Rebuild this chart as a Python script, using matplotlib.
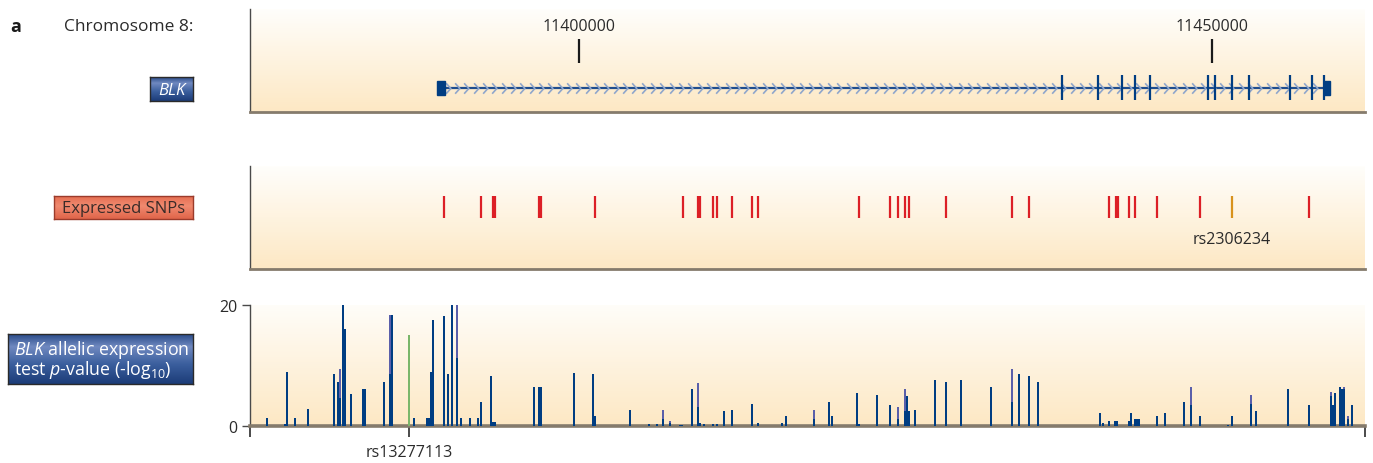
import numpy as np
import matplotlib
matplotlib.use("Agg")
import matplotlib.pyplot as plt
from matplotlib.colors import LinearSegmentedColormap
from matplotlib.path import Path
from matplotlib.patches import Rectangle

plt.rcParams['font.family'] = ['Open Sans', 'DejaVu Sans']
plt.rcParams['mathtext.fontset'] = 'custom'
plt.rcParams['mathtext.rm'] = 'Open Sans'
plt.rcParams['mathtext.it'] = 'Open Sans:italic'

# ---- data (positions in kb on chromosome 8) ----
x_range = (11374.0, 11462.1)
coord_ticks = [11400, 11450]
coord_labels = ["11400000", "11450000"]

gene_start = (11388.78, 11389.42)   # first exon block
gene_end = (11458.85, 11459.32)     # last exon block
exons = [11438.13, 11440.97, 11442.89, 11443.92, 11445.10, 11449.66,
         11450.24, 11451.58, 11452.90, 11456.16, 11457.90, 11458.85]

snp_pos = [11389.31, 11392.24, 11393.21, 11393.36, 11396.84, 11397.00,
           11401.26, 11408.21, 11409.40, 11409.56, 11410.58, 11410.88,
           11412.09, 11413.67, 11414.14, 11422.12, 11424.57, 11425.20,
           11425.75, 11426.07, 11428.99, 11434.20, 11435.55, 11441.86,
           11442.42, 11442.58, 11443.44, 11443.92, 11445.66, 11449.05,
           11457.66]
snp_highlight = 11451.58
snp_highlight_name = "rs2306234"

# allelic expression test -log10 p-values
bar_pos = [11375.33, 11376.78, 11376.91, 11377.57, 11378.59, 11380.62, 11380.96,
           11381.10, 11381.33, 11381.49, 11381.97, 11382.90, 11383.06, 11384.57,
           11385.07, 11385.23, 11386.94, 11387.99, 11388.15, 11388.29, 11388.44,
           11389.31, 11389.63, 11389.94, 11390.34, 11390.66, 11391.37, 11392.00,
           11392.24, 11393.03, 11393.21, 11393.36, 11396.42, 11396.80, 11396.96,
           11399.63, 11401.08, 11401.24, 11404.05, 11405.51, 11406.14, 11406.61,
           11407.16, 11407.99, 11408.15, 11408.93, 11409.38, 11409.53, 11409.85,
           11410.56, 11410.90, 11411.43, 11412.06, 11413.67, 11414.14, 11416.03,
           11416.35, 11418.54, 11419.75, 11419.98, 11421.96, 11422.12, 11423.54,
           11424.57, 11425.20, 11425.75, 11425.91, 11426.07, 11426.54, 11428.12,
           11428.99, 11430.17, 11432.54, 11434.20, 11434.76, 11435.55, 11436.26,
           11441.15, 11441.39, 11441.86, 11442.34, 11442.50, 11443.44, 11443.60,
           11443.92, 11444.08, 11444.24, 11445.66, 11446.29, 11447.79, 11448.34,
           11449.05, 11451.26, 11451.58, 11453.08, 11453.48, 11456.00, 11457.66,
           11459.40, 11459.56, 11459.72, 11460.11, 11460.27, 11460.43, 11460.74,
           11461.06]
bar_dark = [1.3, 0.3, 9.0, 1.3, 2.8, 8.6, 7.3,
            4.6, 20.0, 16.0, 5.3, 6.1, 6.1, 7.3,
            8.6, 18.3, 1.3, 1.3, 1.3, 9.0, 17.5,
            18.2, 8.6, 20.0, 11.3, 1.3, 1.3, 1.3,
            4.0, 8.3, 0.6, 0.6, 6.4, 6.4, 6.4,
            8.8, 8.6, 1.7, 2.7, 0.3, 0.3, 1.2,
            0.55, 0.2, 0.2, 6.1, 3.1, 0.55, 0.3,
            0.3, 0.3, 2.4, 2.7, 3.6, 0.55, 0.55,
            1.7, 1.2, 3.9, 1.7, 5.4, 0.3, 5.2,
            3.4, 1.2, 2.4, 4.9, 2.4, 2.7, 7.6,
            7.2, 7.6, 6.4, 3.9, 8.6, 8.25, 7.2,
            2.1, 0.55, 0.9, 0.9, 0.9, 0.9, 2.1,
            1.2, 1.2, 1.2, 1.7, 2.1, 3.9, 3.4,
            1.7, 0.2, 1.6, 3.6, 2.4, 6.1, 3.4,
            4.9, 3.4, 5.4, 6.4, 6.1, 6.1, 1.2,
            3.4]
bar_light = [0, 0, 0, 0, 0, 0, 0,
             9.5, 0, 0, 0, 0, 0, 0,
             18.3, 0, 0, 0, 0, 0, 0,
             0, 0, 0, 20.0, 0, 0, 0,
             0, 0, 0, 0, 0, 0, 0,
             0, 0, 0, 0, 0, 0, 2.7,
             0.9, 0, 0, 0, 7.1, 0, 0,
             0, 0, 0, 0, 0, 0, 0,
             0, 2.7, 0, 0, 0, 0, 0,
             0, 3.1, 6.1, 0, 0, 0, 0,
             0, 0, 0, 9.4, 0, 0, 0,
             0, 0, 0, 0, 0, 0, 0,
             0, 0, 0, 0, 0, 0, 6.4,
             0, 0, 0, 5.2, 0, 0, 0,
             5.7, 0, 0, 0, 0, 6.4, 1.6,
             0]
lead_snp = 11386.55
lead_snp_value = 15.0
lead_snp_name = "rs13277113"

# ---- colours ----
navy = "#003d82"
purple = "#5a5faa"
green = "#7ab66a"
red = "#dc1f26"
orange = "#d8921c"
# 0 = top of panel, 1 = bottom
bg_cmap = LinearSegmentedColormap.from_list("bg", ["#fffefb", "#fde8c4"])
blue_cmap = LinearSegmentedColormap.from_list(
    "bluebox", [(0, "#2a4c8a"), (0.25, "#7089c0"), (0.6, "#3b5f9e"), (1, "#1c3c78")])
red_cmap = LinearSegmentedColormap.from_list(
    "redbox", [(0, "#e46a4e"), (0.45, "#f08a70"), (1, "#e0654a")])
ramp = np.linspace(0, 1, 100).reshape(-1, 1)

W, H = 1373, 464
fig = plt.figure(figsize=(W / 100, H / 100), dpi=100)


def px_axes(l, t, r, b):
    return fig.add_axes([l / W, 1 - b / H, (r - l) / W, (b - t) / H])


def gradient(ax, cmap, y0=None, y1=None):
    x0, x1 = ax.get_xlim()
    ya, yb = ax.get_ylim()
    ax.imshow(ramp, cmap=cmap, aspect="auto", origin="upper",
              extent=[x0, x1, ya if y0 is None else y0, yb if y1 is None else y1],
              zorder=0)


def style_track(ax):
    for s in ["top", "right"]:
        ax.spines[s].set_visible(False)
    ax.spines["left"].set_color("#4a4a4a")
    ax.spines["left"].set_linewidth(1)
    ax.spines["bottom"].set_color("#857b6c")
    ax.spines["bottom"].set_linewidth(2.0)


def label_box(l, t, r, b, cmap, edge):
    bx = px_axes(l, t, r, b)
    bx.imshow(ramp, cmap=cmap, aspect="auto", extent=[0, 1, 0, 1], origin="upper")
    bx.set_xlim(0, 1)
    bx.set_ylim(0, 1)
    bx.set_xticks([])
    bx.set_yticks([])
    for s in bx.spines.values():
        s.set_color(edge)
        s.set_linewidth(1)
    return bx


# ---- gene track ----
ax_gene = px_axes(250, 10, 1365, 113)
ax_gene.set_xlim(*x_range)
ax_gene.set_ylim(0, 1)
gradient(ax_gene, bg_cmap)
style_track(ax_gene)
ax_gene.set_xticks([])
ax_gene.set_yticks([])

line_y = 0.233
ax_gene.plot([gene_start[1], gene_end[0]], [line_y, line_y], color="#1f4d8e", lw=1.6, zorder=2)
chev = Path([(-0.45, 1), (0.45, 0), (-0.45, -1)], [Path.MOVETO, Path.LINETO, Path.LINETO])
chev_x = np.arange(gene_start[1] + 0.2, gene_end[0] - 0.2, 0.737)
ax_gene.plot(chev_x, np.full_like(chev_x, line_y), ls="none", marker=chev, ms=7.5,
             mfc="none", mec="#8fa6cb", mew=1.2, zorder=3)
ax_gene.vlines(exons, 0.12, 0.362, color=navy, lw=1.6, zorder=4)
for a, b in [gene_start, gene_end]:
    ax_gene.add_patch(Rectangle((a, 0.165), b - a, 0.136, color=navy, zorder=4))
ax_gene.vlines(coord_ticks, 0.476, 0.709, color="#1a1a1a", lw=1.6, zorder=4)
for xt, lab in zip(coord_ticks, coord_labels):
    ax_gene.text(xt, 0.835, lab, ha="center", va="center", fontsize=11.5, color="#2b2b2b")

# ---- expressed SNP track ----
ax_snp = px_axes(250, 167, 1365, 270)
ax_snp.set_xlim(*x_range)
ax_snp.set_ylim(0, 1)
gradient(ax_snp, bg_cmap)
style_track(ax_snp)
ax_snp.set_xticks([])
ax_snp.set_yticks([])
ax_snp.vlines(snp_pos, 0.498, 0.709, color=red, lw=1.6, zorder=3)
ax_snp.vlines([snp_highlight], 0.498, 0.709, color=orange, lw=1.6, zorder=3)
ax_snp.text(snp_highlight, 0.29, snp_highlight_name, ha="center", va="center",
            fontsize=11.5, color="#2b2b2b")

# ---- allelic expression bars ----
ax_bar = px_axes(250, 306, 1365, 427)
ax_bar.set_xlim(*x_range)
ax_bar.set_ylim(0, 20)
gradient(ax_bar, bg_cmap, 0, 21)
ax_bar.set_ylim(0, 20)
style_track(ax_bar)
ax_bar.spines["bottom"].set_linewidth(2.6)
bw = 0.15
light = np.array(bar_light)
mask = light > 0
ax_bar.bar(np.array(bar_pos)[mask], light[mask], width=bw, color=purple, zorder=2)
ax_bar.bar(bar_pos, bar_dark, width=bw, color=navy, zorder=3)
ax_bar.bar([lead_snp], [lead_snp_value], width=bw, color=green, zorder=3)
ax_bar.set_yticks([0, 20])
ax_bar.set_yticklabels(["0", "20"], fontsize=11.5, color="#2b2b2b")
ax_bar.tick_params(axis="y", length=6, width=1, color="#4a4a4a", pad=3)
ax_bar.set_xticks([x_range[0] + 0.01, lead_snp, x_range[1] - 0.01])
ax_bar.set_xticklabels(["", lead_snp_name, ""], fontsize=11.5, color="#2b2b2b")
ax_bar.tick_params(axis="x", length=8, width=1.2, color="#2b2b2b", pad=5)

# ---- left-hand labels ----
fig.text(10 / W, 1 - 27 / H, "a", fontsize=13, fontweight="bold", va="center", ha="left",
         color="#1a1a1a")
fig.text(193 / W, 1 - 27 / H, "Chromosome 8:", fontsize=12.5, va="center", ha="right",
         color="#2b2b2b")

bx = label_box(150, 78, 193, 102, blue_cmap, "#2a2a2a")
bx.text(0.5, 0.47, "BLK", fontsize=12, style="italic", color="white",
        ha="center", va="center", transform=bx.transAxes)

bx = label_box(54, 197, 193, 220, red_cmap, "#9b3b2b")
bx.text(0.5, 0.47, "Expressed SNPs", fontsize=12, color="#3a2b28",
        ha="center", va="center", transform=bx.transAxes)

bx = label_box(8, 335, 193, 385, blue_cmap, "#2a2a2a")
bx.text(0.035, 0.7, r"$\mathit{BLK}$ allelic expression", fontsize=12.8, color="white",
        ha="left", va="center", transform=bx.transAxes)
bx.text(0.035, 0.3, r"test $\mathit{p}$-value (-log$_{10}$)", fontsize=12.8, color="white",
        ha="left", va="center", transform=bx.transAxes)

fig.savefig("out.png", dpi=100)
